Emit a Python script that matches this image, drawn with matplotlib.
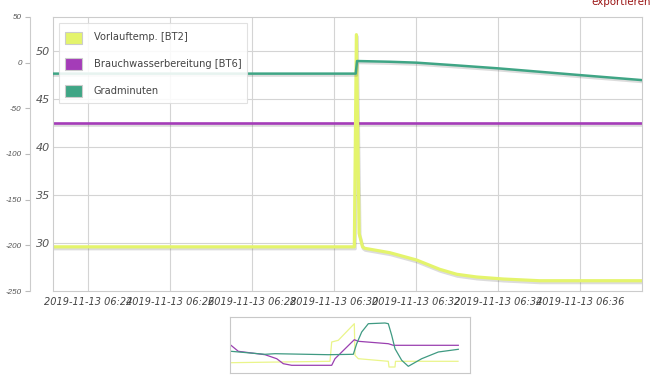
import matplotlib
matplotlib.use('Agg')
import matplotlib.pyplot as plt
import matplotlib.dates as mdates
from matplotlib import patheffects as pe
from matplotlib.patches import Rectangle
import pandas as pd

plt.rcParams['axes.unicode_minus'] = False

day = '2019-11-13 '

# Vorlauftemp. [BT2]  (linke innere Achse, °C)
vl_time = ['06:23:09', '06:30:30', '06:30:33', '06:30:37', '06:30:42', '06:30:45',
           '06:31:22', '06:32:01', '06:32:35', '06:33:00', '06:33:29', '06:34:08',
           '06:35:01', '06:37:31']
vl_temp = [29.6, 29.6, 51.7, 31.0, 29.6, 29.45, 28.99, 28.23, 27.26, 26.74, 26.46,
           26.25, 26.07, 26.07]

# Brauchwasserbereitung [BT6]
bw_time = ['06:23:09', '06:30:00', '06:37:31']
bw_temp = [42.5, 42.5, 42.5]

# Gradminuten (äussere Achse)
gm_time = ['06:23:09', '06:30:32', '06:30:34', '06:31:22', '06:32:01', '06:33:00',
           '06:34:00', '06:35:00', '06:36:00', '06:37:31']
gm_val = [-12, -12, 1.8, 1.0, 0.0, -3.0, -6.2, -9.9, -13.6, -19.1]

names = ['Vorlauftemp. [BT2]', 'Brauchwasserbereitung [BT6]', 'Gradminuten']
colors = ['#e4f46c', '#a43cb8', '#3fa585']

# Navigator (Übersicht), relative Einheiten
nav_vl_x = [1, 100, 101.7, 108.3, 124.3, 125, 128.3, 158.3, 159, 165, 165.5, 228]
nav_vl_y = [10.3, 11.7, 31, 32.7, 49.3, 17.7, 14.3, 11.7, 6, 6, 11.7, 11.7]
nav_bw_x = [1, 8.3, 35, 46.7, 53.3, 61.7, 101.7, 105, 124.3, 128.3, 158.3, 163.3, 228.3]
nav_bw_y = [27.7, 21.7, 18.3, 14.3, 9.3, 7.7, 7.7, 14.3, 33.3, 31.7, 29.3, 27.7, 27.7]
nav_gm_x = [1, 35, 45, 98.3, 123.3, 126.7, 131.7, 138.3, 155, 158.3, 161.7, 165,
            171.7, 178.3, 191.7, 208.3, 228.3]
nav_gm_y = [21.7, 18.7, 19.3, 18.3, 18.7, 29.3, 41, 49.3, 50, 49.3, 37.7, 24.3,
            12.7, 6.7, 14.3, 21, 23.7]


def to_dt(times):
    return pd.to_datetime([day + t for t in times])


fig = plt.figure(figsize=(6.55, 3.84), dpi=100, facecolor='white')
ax = fig.add_axes([53 / 655, 1 - 291 / 384, 589 / 655, 274 / 384])
ax2 = ax.twinx()

shadow = [pe.SimpleLineShadow(offset=(0.6, -1.4), shadow_color='0.25', alpha=0.18), pe.Normal()]

ax.plot(to_dt(bw_time), bw_temp, color=colors[1], lw=1.9, path_effects=shadow, solid_joinstyle='round')
ax.plot(to_dt(vl_time), vl_temp, color=colors[0], lw=2.3, path_effects=shadow, solid_joinstyle='round')
ax2.plot(to_dt(gm_time), gm_val, color=colors[2], lw=1.8, path_effects=shadow, solid_joinstyle='round')

ax.set_xlim(pd.Timestamp(day + '06:23:09'), pd.Timestamp(day + '06:37:31'))
ax.set_ylim(25, 53.54)
ax.set_yticks([30, 35, 40, 45, 50])
ax2.set_ylim(-250, 50)
ax2.set_yticks([-250, -200, -150, -100, -50, 0, 50])

ax.xaxis.set_major_locator(mdates.MinuteLocator(byminute=range(0, 60, 2)))
ax.xaxis.set_major_formatter(mdates.DateFormatter('%Y-%m-%d %H:%M'))

ax.grid(True, color='#d4d4d4', lw=0.8)
ax.set_axisbelow(True)
for s in ax.spines.values():
    s.set_color('#cccccc')
    s.set_linewidth(0.8)
ax.tick_params(axis='x', length=0, pad=4, labelsize=7, labelcolor='#444444')
ax.tick_params(axis='y', length=0, pad=2, labelsize=8, labelcolor='#555555')
for lab in ax.get_xticklabels() + ax.get_yticklabels():
    lab.set_fontstyle('italic')

# äussere Achse links (23 px links vom Plotrand)
for k in ['top', 'right', 'bottom']:
    ax2.spines[k].set_visible(False)
ax2.spines['left'].set_visible(True)
ax2.spines['left'].set_position(('outward', 23 * 0.72))
ax2.spines['left'].set_color('#cccccc')
ax2.spines['left'].set_linewidth(0.8)
ax2.yaxis.set_ticks_position('left')
ax2.tick_params(axis='y', length=3.5, width=0.8, color='#bbbbbb', pad=2.5,
                labelsize=5.8, labelcolor='#555555')
for lab in ax2.get_yticklabels():
    lab.set_fontstyle('italic')
    lab.set_fontfamily('Liberation Sans')

# Legende
W, H = 655, 384
fig.patches.append(Rectangle((59 / W, 1 - 103 / H), 188 / W, 80 / H, transform=fig.transFigure,
                             facecolor='white', edgecolor='#dddddd', lw=0.8, alpha=0.88))
for i, (n, c) in enumerate(zip(names, colors)):
    yc = [37.5, 64, 91][i]
    fig.patches.append(Rectangle((65 / W, 1 - (yc + 6) / H), 17 / W, 12 / H, transform=fig.transFigure,
                                 facecolor=c, edgecolor='#cccccc', lw=0.8))
    fig.text(94 / W, 1 - yc / H, n, fontsize=7.1, color='#444444', va='center', ha='left')

fig.text(651 / W, 1 - 5.0 / H, 'exportieren', fontsize=7.4, color='#9b1414', ha='right', va='baseline')

# Navigator
nav = fig.add_axes([230 / W, 1 - 373 / H, 240 / W, 56 / H])
nav.plot(nav_vl_x, nav_vl_y, color='#eaf58a', lw=0.9)
nav.plot(nav_bw_x, nav_bw_y, color='#9a3fb0', lw=0.9)
nav.plot(nav_gm_x, nav_gm_y, color='#3f9a82', lw=0.9)
nav.set_xlim(0, 240)
nav.set_ylim(0, 56)
nav.set_xticks([])
nav.set_yticks([])
for s in nav.spines.values():
    s.set_color('#c8c8c8')
    s.set_linewidth(0.8)

fig.savefig('out.png', dpi=100)
